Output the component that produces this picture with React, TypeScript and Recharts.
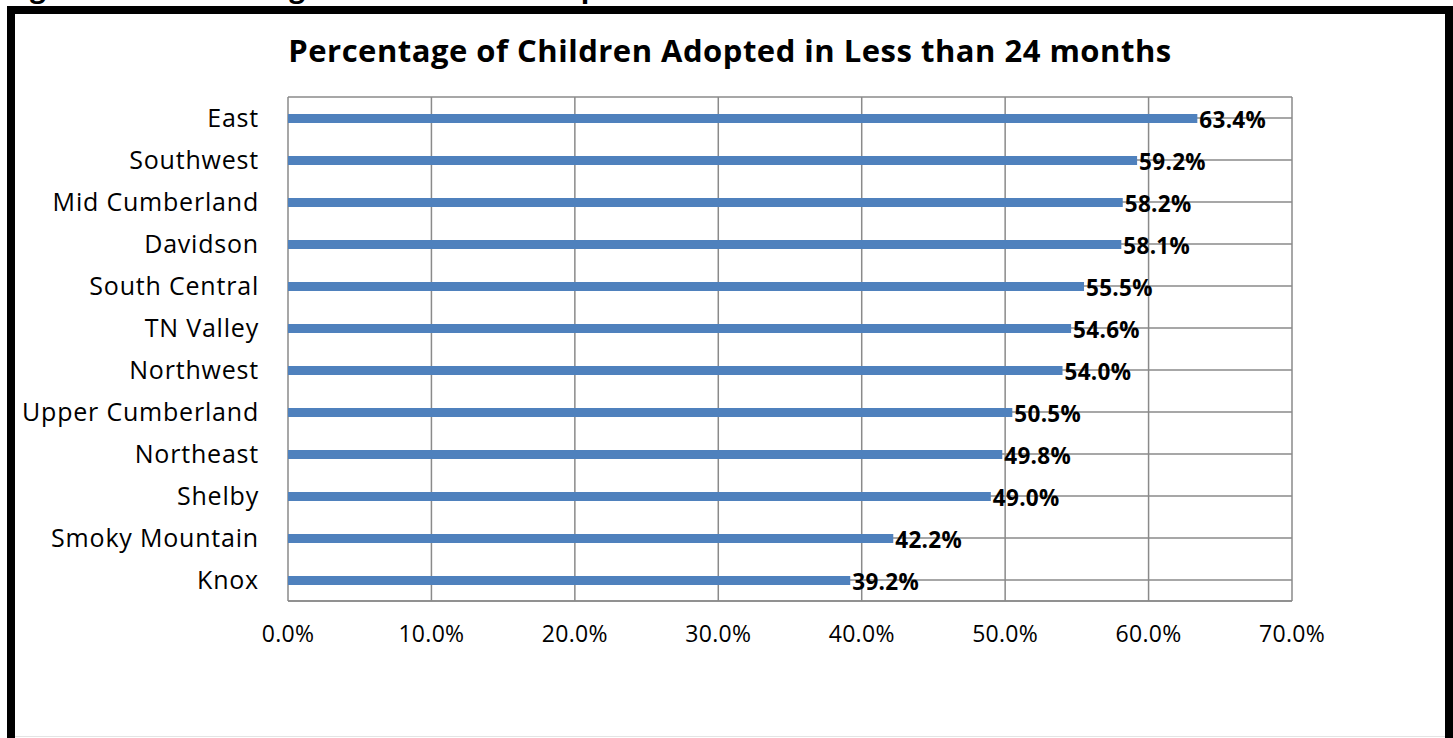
import { BarChart, Bar, XAxis, YAxis, CartesianGrid, LabelList } from "recharts";

// Share of children adopted within 24 months, by region
const regions = [
  "East",
  "Southwest",
  "Mid Cumberland",
  "Davidson",
  "South Central",
  "TN Valley",
  "Northwest",
  "Upper Cumberland",
  "Northeast",
  "Shelby",
  "Smoky Mountain",
  "Knox",
];
const adoptedPct = [63.4, 59.2, 58.2, 58.1, 55.5, 54.6, 54.0, 50.5, 49.8, 49.0, 42.2, 39.2];
const xTicks = [0, 10, 20, 30, 40, 50, 60, 70];

const data = regions.map((region, i) => ({ region, pct: adoptedPct[i] }));

const FONT = "'Open Sans', sans-serif";
const GRID = "#8a8a8a";
const pctLabel = (v: any) => `${Number(v).toFixed(1)}%`;

export default function App() {
  return (
    <div
      style={{
        position: "fixed",
        left: 0,
        top: 0,
        width: 1453,
        height: 738,
        background: "#fff",
        overflow: "hidden",
        fontFamily: FONT,
      }}
    >
      {/* caption line above the frame, mostly scrolled off */}
      <div
        style={{
          position: "absolute",
          left: 2,
          top: -34,
          whiteSpace: "nowrap",
          fontSize: 28,
          fontWeight: 700,
          letterSpacing: 2,
          lineHeight: "40px",
          color: "#000",
        }}
      >
        Figure 7: Percentage of Children Adopted in Less than 24 months
      </div>
      {/* black frame, open at the bottom */}
      <div
        style={{
          position: "absolute",
          left: 7,
          top: 6,
          width: 1430,
          height: 740,
          borderLeft: "8px solid #000",
          borderTop: "8px solid #000",
          borderRight: "8px solid #000",
        }}
      />
      <div
        style={{
          position: "absolute",
          left: 15,
          top: 736,
          width: 1430,
          height: 1,
          background: "#e4e4e4",
        }}
      />
      <div
        style={{
          position: "absolute",
          left: 15,
          width: 1430,
          top: 30,
          textAlign: "center",
          fontSize: 31,
          fontWeight: 700,
          letterSpacing: 0.5,
          color: "#000",
          lineHeight: "40px",
        }}
      >
        Percentage of Children Adopted in Less than 24 months
      </div>
      <div style={{ position: "absolute", left: 0, top: 0 }}>
        <BarChart
          width={1453}
          height={738}
          data={data}
          layout="vertical"
          margin={{ top: 97, right: 161, left: 18, bottom: 77 }}
        >
          <CartesianGrid stroke={GRID} strokeWidth={1.5} />
          <XAxis
            type="number"
            domain={[0, 70]}
            ticks={xTicks}
            tickFormatter={pctLabel}
            axisLine={{ stroke: GRID, strokeWidth: 1.5 }}
            tickLine={false}
            tickSize={0}
            tickMargin={25}
            height={60}
            tick={{ fill: "#000", fontSize: 23, fontFamily: FONT, letterSpacing: 0.3 }}
          />
          <YAxis
            type="category"
            dataKey="region"
            width={270}
            axisLine={false}
            tickLine={false}
            tickSize={0}
            tickMargin={29}
            interval={0}
            tick={{ fill: "#000", fontSize: 25, fontFamily: FONT, letterSpacing: 0.8 }}
          />
          <Bar dataKey="pct" fill="#4f81bd" barSize={9} isAnimationActive={false}>
            <LabelList
              dataKey="pct"
              position="right"
              offset={2}
              dy={2}
              formatter={pctLabel}
              fill="#000"
              fontSize={22.5}
              fontWeight={700}
              fontFamily={FONT}
              letterSpacing={0.3}
            />
          </Bar>
        </BarChart>
      </div>
    </div>
  );
}
